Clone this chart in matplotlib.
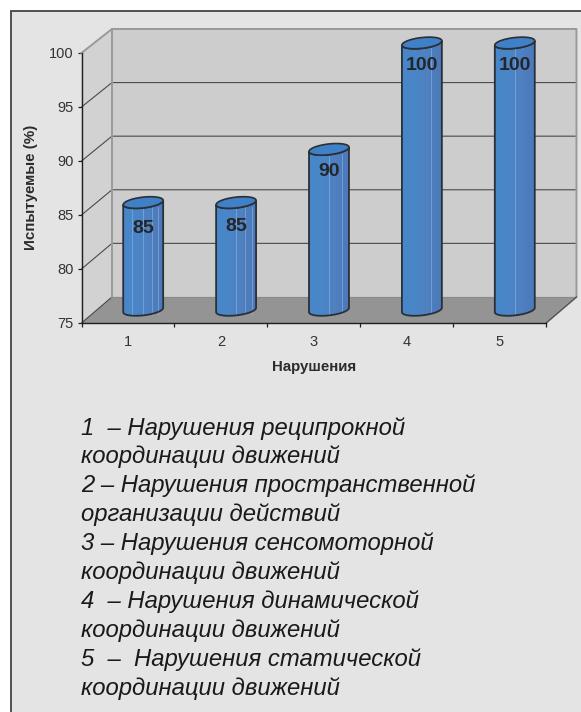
import numpy as np
import matplotlib
matplotlib.use("Agg")
import matplotlib.pyplot as plt
from matplotlib.colors import LinearSegmentedColormap
from matplotlib.patches import PathPatch, Polygon, Rectangle
from matplotlib.path import Path

plt.rcParams["font.family"] = ["Liberation Sans", "DejaVu Sans"]

categories = ["1", "2", "3", "4", "5"]
values = [85, 85, 90, 100, 100]
y_ticks = [75, 80, 85, 90, 95, 100]
x_label = "Нарушения"
y_label = "Испытуемые (%)"
label_shift = [-5, -3, -1, -2, -2]
stripes = [
    [-0.12, 0.0, 0.1, 0.16],
    [0.0, 0.1, 0.17],
    [0.0, 0.14],
    [0.1],
    [0.0],
]
notes = [
    "1  – Нарушения реципрокной",
    "координации движений",
    "2 – Нарушения пространственной",
    "организации действий",
    "3 – Нарушения сенсомоторной",
    "координации движений",
    "4  – Нарушения динамической",
    "координации движений",
    "5  –  Нарушения статической",
    "координации движений",
]

W, H = 581, 712
PANEL = "#e4e4e4"
WALL = "#cdcdcd"
SIDE = "#d2d2d2"
FLOOR = "#949494"
EDGE = "#9a9a9a"
GRID = "#4a4a4a"
INK = "#2c2c2c"

# oblique depth offset per unit of depth, in data units
DX = 0.328
DY = 2.41
SHRINK = 0.0074
BAR_W = 0.43
RX = BAR_W / 2
RY = 0.5
TILT = 0.2
BAR_SCALE = 0.985

blues = LinearSegmentedColormap.from_list("bar", ["#4787c9", "#4a86c8", "#5080c0", "#4b79bb"])


def depth(x, y, d):
    return x + d * DX, 75 + (y - 75) * (1 - SHRINK * d) + d * DY


def cylinder_path(xc, y0, y1):
    t = np.linspace(np.pi, 2 * np.pi, 40)
    low = np.c_[xc + RX * np.cos(t), y0 + RY * np.sin(t) + TILT * np.cos(t)]
    up = np.c_[xc + RX * np.cos(t[::-1]), y1 + RY * np.sin(t[::-1]) + TILT * np.cos(t[::-1])]
    return Path(np.r_[low, up, low[:1]], closed=True)


fig = plt.figure(figsize=(W / 100, H / 100), dpi=100, facecolor="white")
fig.add_artist(Rectangle((10.5 / W, -0.01), 1.0, 1 - 10.5 / H + 0.01, transform=fig.transFigure,
                         facecolor=PANEL, edgecolor="#444444", linewidth=1.3, zorder=-1))

ax = fig.add_axes([81.5 / W, 1 - 323 / H, 464.5 / W, 270 / H])
ax.patch.set_alpha(0)
ax.set_xlim(0.5, 5.5)
ax.set_ylim(75, 100)

x0, x1 = 0.5, 5.5
y0, y1 = 75, 100
bx0, by0 = depth(x0, y0, 1)
bx1, by1 = depth(x1, y1, 1)

# walls and floor
ax.add_patch(Polygon([(x0, y0), (x0, y1), (bx0, by1), (bx0, by0)], closed=True,
                     facecolor=SIDE, edgecolor="none", clip_on=False, zorder=1))
ax.add_patch(Rectangle((bx0, by0), bx1 - bx0, by1 - by0, facecolor=WALL, edgecolor="none",
                       clip_on=False, zorder=1))
ax.add_patch(Polygon([(x0, y0), (bx0, by0), (bx1, by0), (x1, y0)], closed=True,
                     facecolor=FLOOR, edgecolor="none", clip_on=False, zorder=1))

# gridlines run along the side wall and across the back wall
for v in y_ticks[1:-1]:
    _, vb = depth(x0, v, 1)
    ax.plot([x0, bx0, bx1], [v, vb, vb], color=GRID, lw=0.8, clip_on=False, zorder=2)
ax.plot([x0, bx0, bx1, bx1, x1], [y1, by1, by1, by0, y0], color=EDGE, lw=1.4, clip_on=False, zorder=2)
ax.plot([x0, bx0], [y0, by0], color=GRID, lw=0.8, clip_on=False, zorder=2)
ax.plot([bx0, bx0], [by0, by1], color=EDGE, lw=1.4, clip_on=False, zorder=2)
ax.plot([bx0, bx1], [by0, by0], color="#8a8a8a", lw=0.8, clip_on=False, zorder=2)
ax.plot([x1, bx1], [y0, by0], color=GRID, lw=0.8, clip_on=False, zorder=2)

# cylinders stand halfway back on the floor
grad = np.linspace(0, 1, 64).reshape(1, -1)
for i, v in enumerate(values):
    xc, ybase = depth(i + 1, 75, 0.5)
    ytop = ybase + BAR_SCALE * (v - 75) + 0.1
    body = PathPatch(cylinder_path(xc, ybase, ytop), facecolor="none", edgecolor="#2b2f36",
                     linewidth=1.3, clip_on=False, zorder=5)
    ax.add_patch(body)
    im = ax.imshow(grad, cmap=blues, extent=[xc - RX, xc + RX, ybase - 2, ytop + 2],
                   aspect="auto", zorder=4)
    im.set_clip_path(body.get_path(), transform=ax.transData)
    im.set_clip_box(fig.bbox)
    for s in stripes[i]:
        ax.plot([xc + s, xc + s], [ybase - 0.45, ytop - 0.45], color="#8db4e0", lw=0.6,
                alpha=0.7, clip_on=False, zorder=4.5)
    t = np.linspace(0, 2 * np.pi, 80)
    cap = np.c_[xc + RX * np.cos(t), ytop + RY * np.sin(t) + TILT * np.cos(t)]
    ax.add_patch(Polygon(cap, closed=True, facecolor="#3f80c6", edgecolor="#2b2f36", linewidth=1.2,
                         clip_on=False, zorder=6))
    ax.annotate(str(v), (xc, ytop), xytext=(0.5, -21 + label_shift[i]), textcoords="offset pixels",
                ha="center", va="center", fontsize=14, fontweight="bold", color="#23262b", zorder=7,
                annotation_clip=False)

ax.set_xlim(0.5, 5.5)
ax.set_ylim(75, 100)

for side in ["top", "right"]:
    ax.spines[side].set_visible(False)
for side in ["left", "bottom"]:
    ax.spines[side].set_color("#1e1e1e")
    ax.spines[side].set_linewidth(1.0)
    ax.spines[side].set_zorder(3)

ax.set_yticks(y_ticks)
ax.tick_params(axis="y", length=3.2, width=0.9, color="#1e1e1e", labelsize=10.5, labelcolor="#333333", pad=2.5)
ax.set_xticks(np.arange(0.5, 6.5))
ax.set_xticklabels([])
ax.tick_params(axis="x", length=3.2, width=0.9, color="#1e1e1e")
for i, name in enumerate(categories):
    ax.annotate(name, (i + 1, 75), xytext=(0, -19), textcoords="offset pixels", ha="center", va="center",
                fontsize=10.5, color="#333333", annotation_clip=False)

fig.text(314 / W, 1 - 367 / H, x_label, ha="center", va="center", fontsize=10.8, fontweight="bold", color=INK)
fig.text(31 / W, 1 - 187 / H, y_label, ha="center", va="center", rotation=90, fontsize=10.9,
         fontweight="bold", color=INK)

for i, line in enumerate(notes):
    fig.text(81 / W, 1 - (428 + i * 28.9) / H, line, ha="left", va="center", fontsize=17.2,
             style="italic", color="#1a1a1a")

fig.savefig("out.png", dpi=100)
